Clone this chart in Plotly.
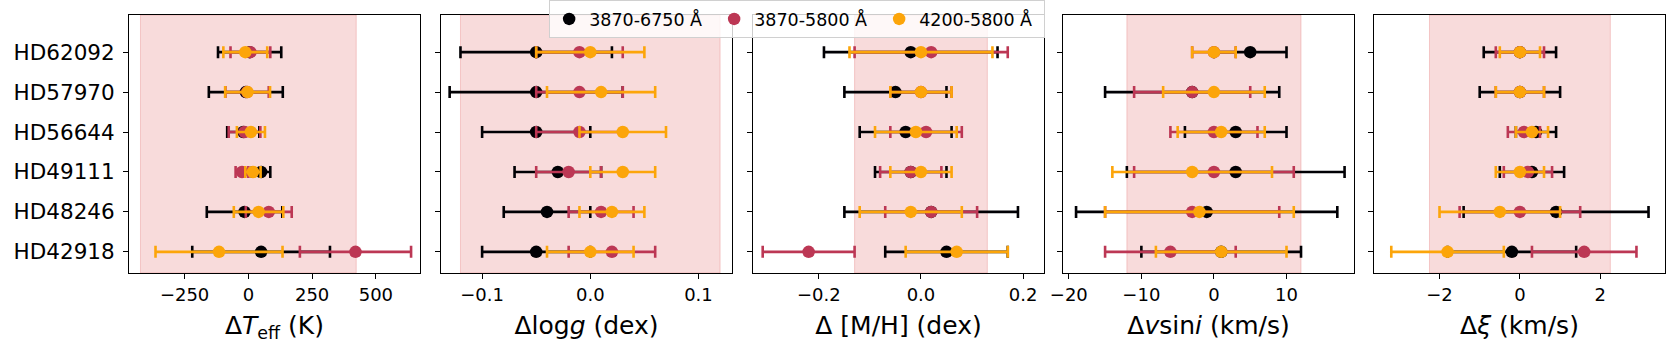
import plotly.graph_objects as go

# stars, bottom to top
stars = ["HD42918", "HD48246", "HD49111", "HD56644", "HD57970", "HD62092"]
bands = ["3870-6750 Å", "3870-5800 Å", "4200-5800 Å"]
colors = ["#000004", "#bc3754", "#fca50a"]

# Delta Teff (K)
teff_6750 = [50, -15, 50, -20, -10, 5]
teff_6750_err = [270, 148, 36, 63, 145, 124]
teff_5800 = [420, 80, -25, -15, -5, 8]
teff_5800_err = [218, 90, 25, 62, 85, 78]
teff_4200 = [-115, 40, 18, 10, -3, -12]
teff_4200_err = [249, 97, 30, 55, 88, 86]

# Delta logg (dex)
logg_6750 = [-0.05, -0.04, -0.03, -0.05, -0.05, -0.05]
logg_6750_err = [0.05, 0.04, 0.04, 0.05, 0.08, 0.07]
logg_5800 = [0.02, 0.01, -0.02, -0.01, -0.01, -0.01]
logg_5800_err = [0.04, 0.03, 0.03, 0.04, 0.04, 0.04]
logg_4200 = [0.0, 0.02, 0.03, 0.03, 0.01, 0.0]
logg_4200_err = [0.04, 0.03, 0.03, 0.04, 0.05, 0.05]

# Delta [M/H] (dex)
mh_6750 = [0.05, 0.02, -0.02, -0.03, -0.05, -0.02]
mh_6750_err = [0.12, 0.17, 0.07, 0.09, 0.10, 0.17]
mh_5800 = [-0.22, 0.02, -0.02, 0.01, 0.0, 0.02]
mh_5800_err = [0.09, 0.09, 0.06, 0.07, 0.06, 0.15]
mh_4200 = [0.07, -0.02, 0.0, -0.01, 0.0, 0.0]
mh_4200_err = [0.10, 0.10, 0.06, 0.08, 0.06, 0.14]

# Delta vsini (km/s)
vsini_6750 = [1, -1, 3, 3, -3, 5]
vsini_6750_err = [11, 18, 15, 7, 12, 5]
vsini_5800 = [-6, -3, 0, 0, -3, 0]
vsini_5800_err = [9, 12, 11, 6, 8, 3]
vsini_4200 = [1, -2, -3, 1, 0, 0]
vsini_4200_err = [9, 13, 11, 6, 7, 3]

# Delta xi (km/s)
xi_6750 = [-0.2, 0.9, 0.3, 0.4, 0.0, 0.0]
xi_6750_err = [1.6, 2.3, 0.8, 0.5, 1.0, 0.9]
xi_5800 = [1.6, 0.0, 0.2, 0.1, 0.0, 0.0]
xi_5800_err = [1.3, 1.5, 0.6, 0.4, 0.6, 0.6]
xi_4200 = [-1.8, -0.5, 0.0, 0.3, 0.0, 0.0]
xi_4200_err = [1.4, 1.5, 0.6, 0.4, 0.6, 0.5]

# shaded band half-widths
shade = [423, 0.12, 0.13, 12, 2.25]

titles = ["Δ<i>T</i><sub>eff</sub> (K)", "Δlog<i>g</i> (dex)", "Δ [M/H] (dex)",
          "Δ<i>v</i>sin<i>i</i> (km/s)", "Δ<i>ξ</i> (km/s)"]
xranges = [[-468, 673], [-0.138, 0.131], [-0.329, 0.241], [-20.8, 19.3], [-3.63, 3.61]]
xticks = [[-250, 0, 250, 500], [-0.1, 0.0, 0.1], [-0.2, 0.0, 0.2], [-20, -10, 0, 10], [-2, 0, 2]]
xfmt = ["d", ".1f", ".1f", "d", "d"]

panels = [
    [(teff_6750, teff_6750_err), (teff_5800, teff_5800_err), (teff_4200, teff_4200_err)],
    [(logg_6750, logg_6750_err), (logg_5800, logg_5800_err), (logg_4200, logg_4200_err)],
    [(mh_6750, mh_6750_err), (mh_5800, mh_5800_err), (mh_4200, mh_4200_err)],
    [(vsini_6750, vsini_6750_err), (vsini_5800, vsini_5800_err), (vsini_4200, vsini_4200_err)],
    [(xi_6750, xi_6750_err), (xi_5800, xi_5800_err), (xi_4200, xi_4200_err)],
]

W, H = 1680, 350
left_px = [129, 441, 753, 1063, 1374]
width_px = 291
y_dom = [1 - 273 / H, 1 - 15 / H]

fig = go.Figure()
font = "DejaVu Sans"

for p, series in enumerate(panels):
    ax = "" if p == 0 else str(p + 1)
    for b, (vals, errs) in enumerate(series):
        fig.add_trace(go.Scatter(
            x=vals, y=stars, mode="markers",
            name=bands[b], legendgroup=bands[b], showlegend=(p == 0),
            marker=dict(color=colors[b], size=12.5, line=dict(width=0)),
            error_x=dict(type="data", array=errs, color=colors[b], thickness=2.6, width=6),
            xaxis="x" + ax, yaxis="y" + ax))
    fig.add_shape(type="rect", xref="x" + ax, yref="y" + ax + " domain",
                  x0=-shade[p], x1=shade[p], y0=0, y1=1,
                  fillcolor="rgba(214,39,40,0.17)", line=dict(color="rgba(214,39,40,0.2)", width=1),
                  layer="below")
    x0 = left_px[p] / W
    fig.layout["xaxis" + ax] = dict(
        domain=[x0, x0 + width_px / W], anchor="y" + ax, range=xranges[p],
        tickvals=xticks[p], tickformat=xfmt[p], ticks="outside", ticklen=5, tickcolor="black",
        showline=True, linecolor="black", linewidth=1, mirror=True, showgrid=False, zeroline=False,
        tickfont=dict(size=18, color="black", family=font),
        title=dict(text=titles[p], font=dict(size=25, color="black", family=font), standoff=12),
        automargin=False)
    fig.layout["yaxis" + ax] = dict(
        domain=y_dom, anchor="x" + ax, type="category", categoryorder="array", categoryarray=stars,
        range=[-0.53, 5.93], ticks="outside", ticklen=5, tickcolor="black",
        showticklabels=(p == 0), showline=True, linecolor="black", linewidth=1, mirror=True,
        showgrid=False, zeroline=False, tickfont=dict(size=21.5, color="black", family=font),
        ticklabelstandoff=4, automargin=False)

fig.update_layout(
    width=W, height=H, margin=dict(l=0, r=0, t=0, b=0, autoexpand=False),
    plot_bgcolor="white", paper_bgcolor="white",
    font=dict(family=font, color="black"),
    legend=dict(orientation="h", x=0.4745, xanchor="center", y=1.0, yanchor="top",
                bgcolor="rgba(255,255,255,0.8)", bordercolor="#d0d0d0", borderwidth=1,
                font=dict(size=17.5, family=font), entrywidth=120, entrywidthmode="pixels"),
)

fig.write_html("out.html", config={"displayModeBar": False},
               post_script="document.body.style.margin='0';")
